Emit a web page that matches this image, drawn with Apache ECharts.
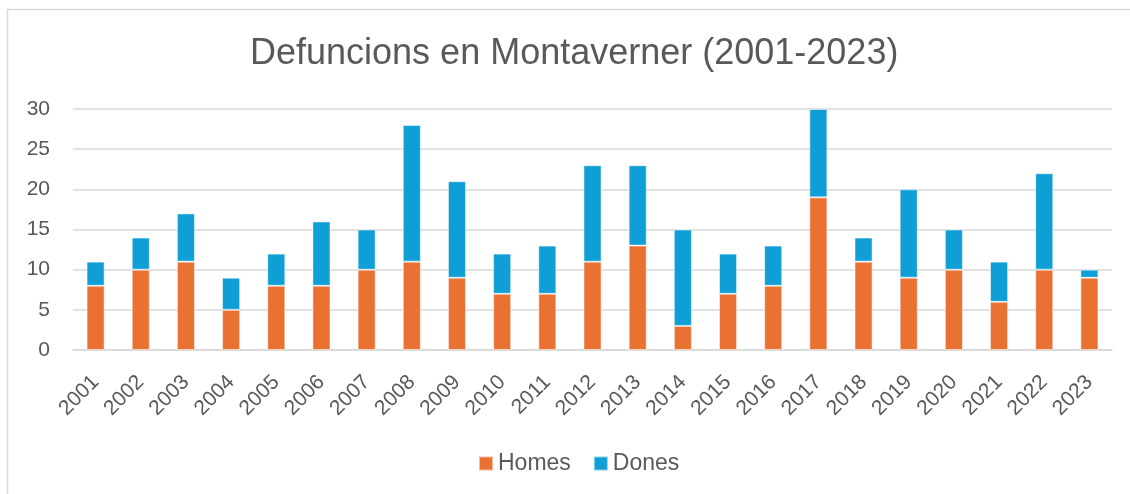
<!DOCTYPE html>
<html>
<head>
<meta charset="utf-8">
<style>
html,body{margin:0;padding:0;background:#fff;}
#chart{width:1130px;height:494px;}
</style>
<script src="https://cdn.jsdelivr.net/npm/echarts@6/dist/echarts.min.js"></script>
</head>
<body>
<div id="chart"></div>
<script>
const years = ['2001','2002','2003','2004','2005','2006','2007','2008','2009','2010','2011','2012','2013','2014','2015','2016','2017','2018','2019','2020','2021','2022','2023'];
const homes = [8,10,11,5,8,8,10,11,9,7,7,11,13,3,7,8,19,11,9,10,6,10,9];
const dones = [3,4,6,4,4,8,5,17,12,5,6,12,10,12,5,5,11,3,11,5,5,12,1];
const yTicks = [0,5,10,15,20,25,30];

const textColor = '#595959';
const font = 'Liberation Sans, Arial, sans-serif';
const chart = echarts.init(document.getElementById('chart'));
chart.setOption({
  animation: false,
  backgroundColor: '#fff',
  graphic: [{
    type: 'rect', silent: true, z: -1,
    shape: {x: 7.5, y: 9.5, width: 1200, height: 600},
    style: {fill: 'none', stroke: '#d9d9d9', lineWidth: 1.5}
  }],
  title: {
    text: 'Defuncions en Montaverner (2001-2023)',
    left: 245, top: 31,
    textStyle: {color: textColor, fontSize: 36, fontWeight: 'normal', fontFamily: font}
  },
  legend: {
    bottom: 14, left: 473,
    itemWidth: 14, itemHeight: 14, itemGap: 22,
    icon: 'rect',
    textStyle: {color: textColor, fontSize: 23, fontFamily: font},
    data: ['Homes','Dones']
  },
  grid: {left: 73, right: 18, top: 109, bottom: 144},
  xAxis: {
    type: 'category', data: years,
    axisLine: {lineStyle: {color: '#d9d9d9', width: 1.5}},
    axisTick: {show: false},
    axisLabel: {rotate: 45, color: textColor, fontSize: 21, fontFamily: font, margin: 29, interval: 0}
  },
  yAxis: {
    type: 'value', min: yTicks[0], max: yTicks[yTicks.length-1], interval: 5,
    axisLine: {show: false}, axisTick: {show: false},
    axisLabel: {color: textColor, fontSize: 21, fontFamily: font, margin: 23},
    splitLine: {lineStyle: {color: '#d9d9d9', width: 1.5}}
  },
  series: [
    {name: 'Homes', type: 'bar', stack: 't', data: homes, barWidth: '40%',
     itemStyle: {color: '#E97132', borderColor: 'rgba(255,255,255,0.5)', borderWidth: 1}},
    {name: 'Dones', type: 'bar', stack: 't', data: dones, barWidth: '40%',
     itemStyle: {color: '#0F9ED5', borderColor: 'rgba(255,255,255,0.5)', borderWidth: 1}}
  ]
});
</script>
</body>
</html>
